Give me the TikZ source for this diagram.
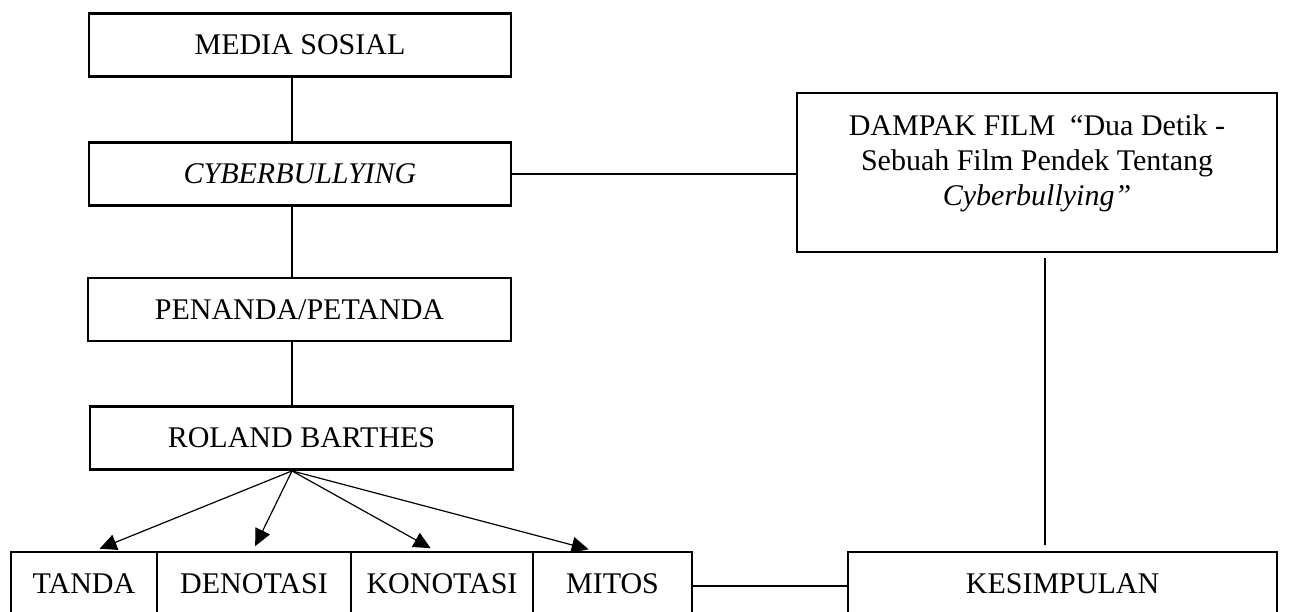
\documentclass[tikz,border=0pt]{standalone}
\usepackage{fontspec}
\setmainfont{Liberation Serif}
\usetikzlibrary{arrows.meta}

\begin{document}
\begin{tikzpicture}[x=1pt, y=-1pt,
    every node/.style={font=\fontsize{30}{35}\selectfont},
    box/.style={draw, line width=2.8pt, minimum height=63pt, inner sep=0pt},
    link/.style={line width=1.2pt},
    tip/.style={link, -{Triangle[length=17pt,width=16pt]}}]
    \useasboundingbox (0,0) rectangle (1289,612);
    \clip (0,0) rectangle (1289,612);
    \coordinate (spine) at (292,0);
    \coordinate (drop) at (1045,0);
    % left column
    \node[box, minimum width=422pt] (media) at (300,45) {MEDIA SOSIAL};
    \node[box, minimum width=422pt] (cyber) at (300,174) {\textit{CYBERBULLYING}};
    \node[box, minimum width=423pt] (penanda) at (299.5,309.5) {PENANDA/PETANDA};
    \node[box, minimum width=423pt] (roland) at (301.5,438) {ROLAND BARTHES};
    % bottom row
    \node[box, minimum width=146pt] (tanda) at (84,583.5) {TANDA};
    \node[box, minimum width=194pt] (denotasi) at (254,583.5) {DENOTASI};
    \node[box, minimum width=182pt] (konotasi) at (442,583.5) {KONOTASI};
    \node[box, minimum width=159pt] (mitos) at (612.5,583.5) {MITOS};
    \node[box, minimum width=429pt] (kes) at (1062.5,583.5) {KESIMPULAN};
    % right column
    \node[box, minimum width=480pt, minimum height=159pt] (dampak) at (1037,172.5) {};
    \node[align=center, anchor=north, inner sep=0pt] (dampaktext) at (1037,114)
        {DAMPAK FILM\ \ “Dua Detik -\\Sebuah Film Pendek Tentang\\\textit{Cyberbullying”}};
    % connectors
    \draw[link] (media.south -| spine) -- (cyber.north -| spine);
    \draw[link] (cyber.south -| spine) -- (penanda.north -| spine);
    \draw[link] (penanda.south -| spine) -- (roland.north -| spine);
    \draw[link] (cyber.east) -- (cyber.east -| dampak.west);
    \draw[link, shorten <=5pt, shorten >=6pt] (dampak.south -| drop) -- (kes.north -| drop);
    \draw[link] ([yshift=-2.5pt]mitos.east) -- ([yshift=-2.5pt]mitos.east -| kes.west);
    \coordinate (fan) at (roland.south -| spine);
    \foreach \t/\dx in {tanda/11, denotasi/-1, konotasi/-7, mitos/-19}
        \draw[tip, shorten >=5pt] (fan) -- ([xshift=\dx pt]\t.north);
\end{tikzpicture}
\end{document}
